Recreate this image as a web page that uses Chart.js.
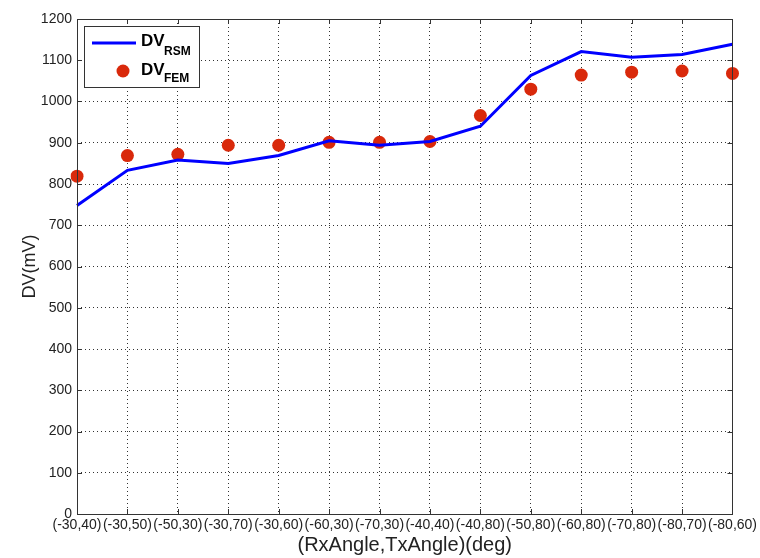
<!DOCTYPE html>
<html>
<head>
<meta charset="utf-8">
<script src="https://cdn.jsdelivr.net/npm/chart.js@4"></script>
<style>
  html, body { margin: 0; padding: 0; background: #fff; }
  #wrap { width: 760px; height: 558px; }
</style>
</head>
<body>
<div id="wrap"><canvas id="canvas" width="760" height="558"></canvas></div>
<script>
var angleLabels = ['(-30,40)', '(-30,50)', '(-50,30)', '(-30,70)', '(-30,60)', '(-60,30)', '(-70,30)',
                   '(-40,40)', '(-40,80)', '(-50,80)', '(-60,80)', '(-70,80)', '(-80,70)', '(-80,60)'];
var dvRsm = [748, 833, 858, 850, 869, 905, 894, 903, 940, 1063, 1121, 1107, 1114, 1139];
var dvFem = [819, 869, 872, 894, 894, 901, 901, 903, 966, 1030, 1064, 1071, 1074, 1068];
var yTicks = [0, 100, 200, 300, 400, 500, 600, 700, 800, 900, 1000, 1100, 1200];

var blue = '#0000ff';
var red = '#d9290b';
var axisColor = '#333';

// inward ticks on all four sides, plus top/right box
var boxTicks = {
  id: 'boxTicks',
  afterDraw: function(chart) {
    var ctx = chart.ctx, a = chart.chartArea;
    var xs = chart.scales.x, ys = chart.scales.y;
    ctx.save();
    ctx.strokeStyle = axisColor;
    ctx.lineWidth = 1;
    ctx.beginPath();
    xs.ticks.forEach(function(t, i) {
      var px = Math.round(xs.getPixelForTick(i)) + 0.5;
      ctx.moveTo(px, a.bottom); ctx.lineTo(px, a.bottom - 5);
      ctx.moveTo(px, a.top); ctx.lineTo(px, a.top + 5);
    });
    ys.ticks.forEach(function(t, i) {
      var py = Math.round(ys.getPixelForTick(i)) + 0.5;
      ctx.moveTo(a.left, py); ctx.lineTo(a.left + 5, py);
      ctx.moveTo(a.right, py); ctx.lineTo(a.right - 5, py);
    });
    ctx.stroke();
    ctx.strokeRect(Math.round(a.left) + 0.5, Math.round(a.top) + 0.5,
                   Math.round(a.right - a.left), Math.round(a.bottom - a.top));
    ctx.restore();

    // legend box with subscripts
    ctx.save();
    ctx.fillStyle = '#fff';
    ctx.fillRect(84, 26, 116, 61);
    ctx.strokeStyle = '#333';
    ctx.strokeRect(84.5, 26.5, 115, 61);
    ctx.strokeStyle = blue;
    ctx.lineWidth = 3;
    ctx.beginPath();
    ctx.moveTo(92, 43); ctx.lineTo(136, 43);
    ctx.stroke();
    ctx.fillStyle = red;
    ctx.beginPath();
    ctx.arc(123, 71, 6.5, 0, Math.PI * 2);
    ctx.fill();
    ctx.fillStyle = '#000';
    ctx.textBaseline = 'alphabetic';
    ctx.font = 'bold 17px "Liberation Sans", Arial, sans-serif';
    ctx.fillText('DV', 141, 46);
    ctx.fillText('DV', 141, 75);
    ctx.font = 'bold 12px "Liberation Sans", Arial, sans-serif';
    ctx.fillText('RSM', 164, 55);
    ctx.fillText('FEM', 164, 82);
    ctx.restore();
  }
};

var config = {
  type: 'line',
  data: {
    labels: angleLabels,
    datasets: [{
      label: 'DV RSM',
      data: dvRsm,
      borderColor: blue,
      backgroundColor: blue,
      borderWidth: 3,
      pointRadius: 0,
      tension: 0
    }, {
      label: 'DV FEM',
      data: dvFem,
      showLine: false,
      borderColor: red,
      backgroundColor: red,
      pointRadius: 6.5,
      pointBorderWidth: 0
    }]
  },
  plugins: [boxTicks],
  options: {
    responsive: false,
    animation: false,
    layout: { padding: { top: 19, right: 27, left: 0, bottom: 0 } },
    plugins: {
      legend: { display: false },
      tooltip: { enabled: false }
    },
    scales: {
      x: {
        type: 'category',
        offset: false,
        afterFit: function(s) { s.height = 44; },
        grid: { color: '#333', drawTicks: false },
        border: { display: false, dash: [1, 3] },
        ticks: {
          autoSkip: false, maxRotation: 0, minRotation: 0, padding: 3,
          color: '#222', font: { family: '"Liberation Sans", Arial, sans-serif', size: 14 }
        },
        title: {
          display: true, text: '(RxAngle,TxAngle)(deg)', color: '#222',
          padding: { top: 0, bottom: 1 },
          font: { family: '"Liberation Sans", Arial, sans-serif', size: 20 }
        }
      },
      y: {
        min: 0, max: 1200,
        afterFit: function(s) { s.width = 77; },
        afterBuildTicks: function(s) { s.ticks = yTicks.map(function(v) { return { value: v }; }); },
        grid: { color: '#333', drawTicks: false },
        border: { display: false, dash: [1, 3] },
        ticks: {
          padding: 5, color: '#222',
          callback: function(v) { return String(v); },
          font: { family: '"Liberation Sans", Arial, sans-serif', size: 14 }
        },
        title: {
          display: true, text: 'DV(mV)', color: '#222',
          padding: { top: 19, bottom: 0 },
          font: { family: '"Liberation Sans", Arial, sans-serif', size: 18 }
        }
      }
    }
  }
};

window.myChart = new Chart(document.getElementById('canvas'), config);
</script>
</body>
</html>
